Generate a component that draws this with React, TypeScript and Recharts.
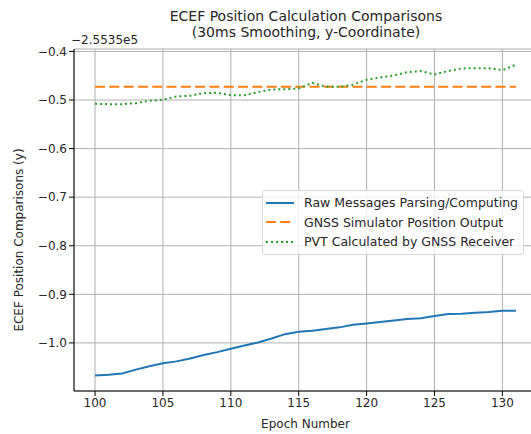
import { LineChart, Line, XAxis, YAxis, CartesianGrid, Legend } from "recharts";

const epochs = [100, 101, 102, 103, 104, 105, 106, 107, 108, 109, 110, 111, 112, 113, 114, 115,
  116, 117, 118, 119, 120, 121, 122, 123, 124, 125, 126, 127, 128, 129, 130, 131];

const rawParsing = [-1.067, -1.0656, -1.063, -1.055, -1.048, -1.042, -1.038, -1.032, -1.025, -1.019,
  -1.012, -1.0055, -0.999, -0.991, -0.982, -0.977, -0.9748, -0.9713, -0.968, -0.9625, -0.96, -0.957,
  -0.9537, -0.951, -0.949, -0.9447, -0.9406, -0.94, -0.938, -0.9365, -0.934, -0.934];

const simulatorOutput = -0.4725;

const pvtReceiver = [-0.5078, -0.5086, -0.5086, -0.5065, -0.5016, -0.4995, -0.4927, -0.4913, -0.4859,
  -0.4851, -0.49, -0.49, -0.4838, -0.4783, -0.4777, -0.4762, -0.4645, -0.4727, -0.4727, -0.4686,
  -0.4583, -0.4535, -0.4494, -0.4426, -0.4405, -0.4473, -0.4405, -0.435, -0.4344, -0.4344, -0.4385,
  -0.4274];

const xTicks = [100, 105, 110, 115, 120, 125, 130];
const yTicks = [-1.0, -0.9, -0.8, -0.7, -0.6, -0.5, -0.4];

const seriesNames = [
  "Raw Messages Parsing/Computing",
  "GNSS Simulator Position Output",
  "PVT Calculated by GNSS Receiver",
];

const data = epochs.map((epoch, i) => ({
  epoch,
  raw: rawParsing[i],
  sim: simulatorOutput,
  pvt: pvtReceiver[i],
}));

const FONT = "'DejaVu Sans', sans-serif";
const TEXT = "#262626";

const fmtY = (v: number) => (v < 0 ? "\u2212" : "") + Math.abs(v).toFixed(1);

const LegendBox = () => {
  const styles = [
    { color: "#1f77b4", dash: undefined },
    { color: "#ff7f0e", dash: "10 4.3" },
    { color: "#2ca02c", dash: "2 3" },
  ];
  return (
    <div
      style={{
        border: "1px solid #d9d9d9",
        borderRadius: 3,
        background: "rgba(255,255,255,0.8)",
        padding: "2px 5px 2px 2px",
        fontFamily: FONT,
        fontSize: 12.5,
        color: TEXT,
      }}
    >
      {seriesNames.map((name, i) => (
        <div key={name} style={{ display: "flex", alignItems: "center", height: 19.5 }}>
          <svg width={36} height={8} style={{ marginRight: 3 }}>
            <line x1={1} y1={4} x2={29} y2={4} stroke={styles[i].color} strokeWidth={2} strokeDasharray={styles[i].dash} />
          </svg>
          <span style={{ whiteSpace: "nowrap" }}>{name}</span>
        </div>
      ))}
    </div>
  );
};

export default function App() {
  return (
    <div style={{ position: "absolute", left: 0, top: 0, width: 531, height: 434, overflow: "hidden", background: "#fff" }}>
      <div style={{ position: "absolute", left: 0, width: 612, top: 8, textAlign: "center", fontFamily: FONT, fontSize: 14, lineHeight: "16px", color: TEXT }}>
        ECEF Position Calculation Comparisons
        <br />
        (30ms Smoothing, y-Coordinate)
      </div>
      <div style={{ position: "absolute", left: 71, top: 33, fontFamily: FONT, fontSize: 12, color: TEXT }}>
        {"\u22122.5535e5"}
      </div>
      <LineChart width={545} height={434} data={data} margin={{ top: 49, right: 8, bottom: 0, left: 0 }}>
        <CartesianGrid stroke="#b0b0b0" strokeWidth={1} />
        <XAxis
          dataKey="epoch"
          type="number"
          domain={[98.45, 132.55]}
          ticks={xTicks}
          height={43}
          tickSize={5}
          stroke="#000"
          tick={{ fill: TEXT, fontSize: 12, fontFamily: FONT }}
          label={{ value: "Epoch Number", position: "insideBottom", offset: 6, fill: TEXT, fontSize: 12, fontFamily: FONT }}
        />
        <XAxis xAxisId="top" orientation="top" dataKey="epoch" type="number" domain={[98.45, 132.55]} height={0} tick={false} stroke="#000" />
        <YAxis
          type="number"
          domain={[-1.099, -0.395]}
          ticks={yTicks}
          width={74}
          tickSize={5}
          stroke="#000"
          tickFormatter={fmtY}
          tick={{ fill: TEXT, fontSize: 12, fontFamily: FONT }}
          label={{ value: "ECEF Position Comparisons (y)", angle: -90, position: "insideLeft", dx: 14, dy: 20, fill: TEXT, fontSize: 12, fontFamily: FONT, style: { textAnchor: "middle" } }}
        />
        <YAxis yAxisId="right" orientation="right" domain={[-1.099, -0.395]} width={0} tick={false} stroke="#000" />
        <Legend
          layout="vertical"
          align="center"
          verticalAlign="middle"
          content={() => <LegendBox />}
          wrapperStyle={{ left: 262, top: 190, width: "auto" }}
        />
        <Line dataKey="raw" name={seriesNames[0]} type="linear" stroke="#1f77b4" strokeWidth={2} dot={false} isAnimationActive={false} />
        <Line dataKey="sim" name={seriesNames[1]} type="linear" stroke="#ff7f0e" strokeWidth={2} strokeDasharray="10 4.3" dot={false} isAnimationActive={false} />
        <Line dataKey="pvt" name={seriesNames[2]} type="linear" stroke="#2ca02c" strokeWidth={2} strokeDasharray="2 3" dot={false} isAnimationActive={false} />
      </LineChart>
    </div>
  );
}
